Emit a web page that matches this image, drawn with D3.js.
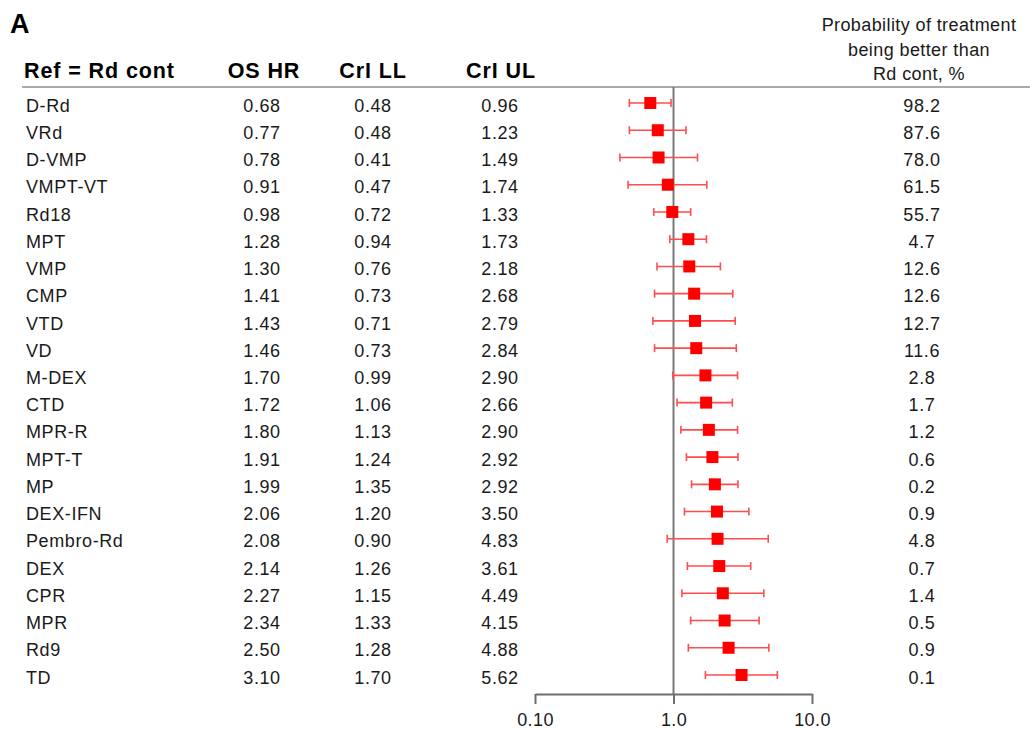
<!DOCTYPE html>
<html>
<head>
<meta charset="utf-8">
<script src="https://cdn.jsdelivr.net/npm/d3@7"></script>
<style>
  html, body { margin: 0; padding: 0; background: #fff; }
  svg { display: block; font-family: "Liberation Sans", Arial, Helvetica, sans-serif; }
</style>
</head>
<body>
<svg id="chart" width="1030" height="730"></svg>
<script>
const treatments = ["D-Rd","VRd","D-VMP","VMPT-VT","Rd18","MPT","VMP","CMP","VTD","VD","M-DEX","CTD","MPR-R","MPT-T","MP","DEX-IFN","Pembro-Rd","DEX","CPR","MPR","Rd9","TD"];
const hr = [0.68,0.77,0.78,0.91,0.98,1.28,1.30,1.41,1.43,1.46,1.70,1.72,1.80,1.91,1.99,2.06,2.08,2.14,2.27,2.34,2.50,3.10];
const lower = [0.48,0.48,0.41,0.47,0.72,0.94,0.76,0.73,0.71,0.73,0.99,1.06,1.13,1.24,1.35,1.20,0.90,1.26,1.15,1.33,1.28,1.70];
const upper = [0.96,1.23,1.49,1.74,1.33,1.73,2.18,2.68,2.79,2.84,2.90,2.66,2.90,2.92,2.92,3.50,4.83,3.61,4.49,4.15,4.88,5.62];
const probBetter = [98.2,87.6,78.0,61.5,55.7,4.7,12.6,12.6,12.7,11.6,2.8,1.7,1.2,0.6,0.2,0.9,4.8,0.7,1.4,0.5,0.9,0.1];
const columnHeaders = ["Ref = Rd cont","OS HR","CrI LL","CrI UL"];
const probHeader = ["Probability of treatment","being better than","Rd cont, %"];
const tickValues = [0.1, 1, 10];
const tickLabels = ["0.10","1.0","10.0"];
const panelLabel = "A";

const svg = d3.select("#chart");
const rows = treatments.map((t, i) => ({t, hr: hr[i], lo: lower[i], hi: upper[i], p: probBetter[i]}));

const x = d3.scaleLog().domain([0.1, 10]).range([535, 812]);
const y = d3.scalePoint().domain(treatments).range([103, 675]);

const textColor = "#1a1a1a";
const fs = 18;

// Panel label
svg.append("text").attr("x", 10).attr("y", 33)
  .attr("font-size", 27).attr("font-weight", "bold").attr("fill", "#000").text(panelLabel);

// Column headers
const headerX = [24, 264, 373, 501];
const headerAnchor = ["start","middle","middle","middle"];
svg.selectAll("text.hdr").data(columnHeaders).join("text")
  .attr("class","hdr")
  .attr("x", (d,i) => headerX[i]).attr("y", 77.5)
  .attr("text-anchor", (d,i) => headerAnchor[i])
  .attr("font-size", 21.5).attr("font-weight","bold").attr("letter-spacing", 0.9).attr("fill","#000")
  .text(d => d);

svg.selectAll("text.phdr").data(probHeader).join("text")
  .attr("class","phdr")
  .attr("x", 919).attr("y", (d,i) => 31 + i*24.5)
  .attr("text-anchor","middle").attr("font-size", fs).attr("letter-spacing", 0.4)
  .attr("fill", textColor).text(d => d);

// Header rule
svg.append("line").attr("x1", 22).attr("x2", 1030).attr("y1", 87).attr("y2", 87)
  .attr("stroke", "#8c8c8c").attr("stroke-width", 1.5);

// Reference line at 1
svg.append("line").attr("x1", x(1)).attr("x2", x(1)).attr("y1", 87).attr("y2", 694)
  .attr("stroke", "#7a7a7a").attr("stroke-width", 2);

// Axis
const axis = d3.axisBottom(x).tickValues(tickValues).tickFormat((d,i) => tickLabels[i]).tickSize(10).tickSizeOuter(0);
const gAxis = svg.append("g").attr("transform", "translate(0,694)").call(axis);
gAxis.select(".domain").attr("stroke", "#6e6e6e").attr("stroke-width", 2);
gAxis.selectAll(".tick line").attr("stroke", "#6e6e6e").attr("stroke-width", 2).attr("y2", 10);
gAxis.selectAll(".tick text").attr("font-size", fs).attr("letter-spacing", 0.4)
  .attr("fill", textColor).attr("dy", 0).attr("y", 31.5)
  .attr("font-family", "'Liberation Sans', Arial, sans-serif");

// Table text
const rowG = svg.selectAll("g.row").data(rows).join("g").attr("class","row")
  .attr("transform", d => `translate(0,${y(d.t)})`);
const fmt2 = d3.format(".2f"), fmt1 = d3.format(".1f");
const cols = [
  {x: 26, anchor: "start", f: d => d.t},
  {x: 262, anchor: "middle", f: d => fmt2(d.hr)},
  {x: 373, anchor: "middle", f: d => fmt2(d.lo)},
  {x: 500, anchor: "middle", f: d => fmt2(d.hi)},
  {x: 922, anchor: "middle", f: d => fmt1(d.p)}
];
cols.forEach(c => {
  rowG.append("text").attr("x", c.x).attr("y", 0).attr("dy", "0.48em")
    .attr("text-anchor", c.anchor).attr("font-size", fs).attr("letter-spacing", 0.6)
    .attr("fill", textColor).text(c.f);
});

// Error bars
const red = "#ff0000";
rowG.append("line").attr("x1", d => x(d.lo)).attr("x2", d => x(d.hi))
  .attr("stroke", "#ff4d4d").attr("stroke-width", 1.6);
rowG.append("line").attr("x1", d => x(d.lo)).attr("x2", d => x(d.lo)).attr("y1", -4).attr("y2", 4)
  .attr("stroke", "#ff4d4d").attr("stroke-width", 1.6);
rowG.append("line").attr("x1", d => x(d.hi)).attr("x2", d => x(d.hi)).attr("y1", -4).attr("y2", 4)
  .attr("stroke", "#ff4d4d").attr("stroke-width", 1.6);
rowG.append("rect").attr("x", d => x(d.hr) - 6).attr("y", -6).attr("width", 12).attr("height", 12)
  .attr("fill", red);
</script>
</body>
</html>
